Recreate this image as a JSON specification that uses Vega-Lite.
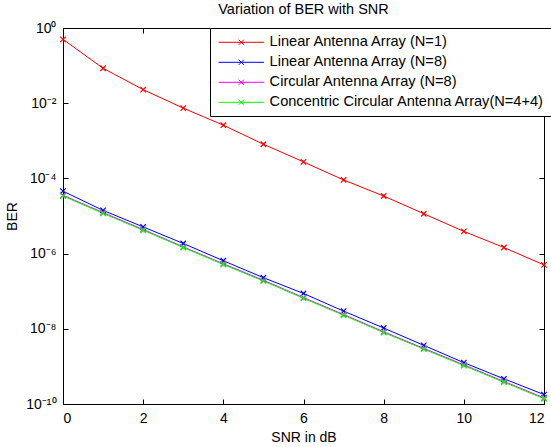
{
  "$schema": "https://vega.github.io/schema/vega-lite/v6.json",
  "width": 481,
  "height": 376,
  "autosize": {"type": "none"},
  "padding": {"left": 63, "top": 28, "right": 7, "bottom": 43},
  "background": "white",
  "config": {
    "font": "Liberation Sans",
    "view": {"stroke": "black", "strokeWidth": 1},
    "axis": {"grid": false, "domainColor": "black", "tickColor": "black", "labelColor": "black", "titleColor": "black", "labelFontSize": 14, "titleFontSize": 14, "titleFontWeight": "normal", "domainWidth": 1, "tickWidth": 1}
  },
  "title": {"text": "Variation of BER with SNR", "fontSize": 14.5, "fontWeight": "normal", "color": "black", "offset": 4, "anchor": "middle"},
  "data": {"values": [
    {"snr": 0, "ber": 0.5, "series": "Linear Antenna Array (N=1)"},
    {"snr": 1, "ber": 0.085, "series": "Linear Antenna Array (N=1)"},
    {"snr": 2, "ber": 0.023, "series": "Linear Antenna Array (N=1)"},
    {"snr": 3, "ber": 0.0074, "series": "Linear Antenna Array (N=1)"},
    {"snr": 4, "ber": 0.0026, "series": "Linear Antenna Array (N=1)"},
    {"snr": 5, "ber": 0.00081, "series": "Linear Antenna Array (N=1)"},
    {"snr": 6, "ber": 0.000275, "series": "Linear Antenna Array (N=1)"},
    {"snr": 7, "ber": 0.000091, "series": "Linear Antenna Array (N=1)"},
    {"snr": 8, "ber": 0.000034, "series": "Linear Antenna Array (N=1)"},
    {"snr": 9, "ber": 0.0000115, "series": "Linear Antenna Array (N=1)"},
    {"snr": 10, "ber": 0.0000039, "series": "Linear Antenna Array (N=1)"},
    {"snr": 11, "ber": 0.00000145, "series": "Linear Antenna Array (N=1)"},
    {"snr": 12, "ber": 0.0000005, "series": "Linear Antenna Array (N=1)"},
    {"snr": 0, "ber": 4.57e-5, "series": "Linear Antenna Array (N=8)"},
    {"snr": 1, "ber": 1.41e-5, "series": "Linear Antenna Array (N=8)"},
    {"snr": 2, "ber": 5.13e-6, "series": "Linear Antenna Array (N=8)"},
    {"snr": 3, "ber": 1.86e-6, "series": "Linear Antenna Array (N=8)"},
    {"snr": 4, "ber": 6.46e-7, "series": "Linear Antenna Array (N=8)"},
    {"snr": 5, "ber": 2.29e-7, "series": "Linear Antenna Array (N=8)"},
    {"snr": 6, "ber": 8.71e-8, "series": "Linear Antenna Array (N=8)"},
    {"snr": 7, "ber": 2.95e-8, "series": "Linear Antenna Array (N=8)"},
    {"snr": 8, "ber": 1.05e-8, "series": "Linear Antenna Array (N=8)"},
    {"snr": 9, "ber": 3.63e-9, "series": "Linear Antenna Array (N=8)"},
    {"snr": 10, "ber": 1.26e-9, "series": "Linear Antenna Array (N=8)"},
    {"snr": 11, "ber": 4.68e-10, "series": "Linear Antenna Array (N=8)"},
    {"snr": 12, "ber": 1.78e-10, "series": "Linear Antenna Array (N=8)"},
    {"snr": 0, "ber": 3.55e-5, "series": "Circular Antenna Array (N=8)"},
    {"snr": 1, "ber": 1.23e-5, "series": "Circular Antenna Array (N=8)"},
    {"snr": 2, "ber": 4.37e-6, "series": "Circular Antenna Array (N=8)"},
    {"snr": 3, "ber": 1.51e-6, "series": "Circular Antenna Array (N=8)"},
    {"snr": 4, "ber": 5.37e-7, "series": "Circular Antenna Array (N=8)"},
    {"snr": 5, "ber": 1.95e-7, "series": "Circular Antenna Array (N=8)"},
    {"snr": 6, "ber": 6.76e-8, "series": "Circular Antenna Array (N=8)"},
    {"snr": 7, "ber": 2.40e-8, "series": "Circular Antenna Array (N=8)"},
    {"snr": 8, "ber": 8.32e-9, "series": "Circular Antenna Array (N=8)"},
    {"snr": 9, "ber": 3.02e-9, "series": "Circular Antenna Array (N=8)"},
    {"snr": 10, "ber": 1.10e-9, "series": "Circular Antenna Array (N=8)"},
    {"snr": 11, "ber": 3.98e-10, "series": "Circular Antenna Array (N=8)"},
    {"snr": 12, "ber": 1.45e-10, "series": "Circular Antenna Array (N=8)"},
    {"snr": 0, "ber": 3.39e-5, "series": "Concentric Circular Antenna Array(N=4+4)"},
    {"snr": 1, "ber": 1.17e-5, "series": "Concentric Circular Antenna Array(N=4+4)"},
    {"snr": 2, "ber": 4.17e-6, "series": "Concentric Circular Antenna Array(N=4+4)"},
    {"snr": 3, "ber": 1.45e-6, "series": "Concentric Circular Antenna Array(N=4+4)"},
    {"snr": 4, "ber": 5.13e-7, "series": "Concentric Circular Antenna Array(N=4+4)"},
    {"snr": 5, "ber": 1.86e-7, "series": "Concentric Circular Antenna Array(N=4+4)"},
    {"snr": 6, "ber": 6.46e-8, "series": "Concentric Circular Antenna Array(N=4+4)"},
    {"snr": 7, "ber": 2.29e-8, "series": "Concentric Circular Antenna Array(N=4+4)"},
    {"snr": 8, "ber": 7.94e-9, "series": "Concentric Circular Antenna Array(N=4+4)"},
    {"snr": 9, "ber": 2.88e-9, "series": "Concentric Circular Antenna Array(N=4+4)"},
    {"snr": 10, "ber": 1.05e-9, "series": "Concentric Circular Antenna Array(N=4+4)"},
    {"snr": 11, "ber": 3.80e-10, "series": "Concentric Circular Antenna Array(N=4+4)"},
    {"snr": 12, "ber": 1.38e-10, "series": "Concentric Circular Antenna Array(N=4+4)"}
  ]},
  "layer": [
    {
      "mark": {"type": "line", "strokeWidth": 1, "clip": false,
        "point": {"shape": "M-1,-1L1,1M-1,1L1,-1", "filled": false, "size": 30, "strokeWidth": 1.2}},
      "encoding": {
        "x": {"field": "snr", "type": "quantitative",
          "scale": {"domain": [0, 12], "nice": false, "zero": false},
          "axis": {"values": [0, 2, 4, 6, 8, 10, 12], "tickSize": -5, "labelPadding": 12, "title": "SNR in dB", "titlePadding": 5}},
        "y": {"field": "ber", "type": "quantitative",
          "scale": {"type": "log", "domain": [1e-10, 1], "nice": false},
          "axis": {"values": [1, 0.01, 0.0001, 0.000001, 0.00000001, 0.0000000001], "tickSize": -5, "labelPadding": 12, "title": "BER", "titlePadding": 6,
            "labelExpr": "datum.value > 0.5 ? '10⁰' : datum.value > 0.005 ? '10⁻²' : datum.value > 0.00005 ? '10⁻⁴' : datum.value > 0.0000005 ? '10⁻⁶' : datum.value > 0.000000005 ? '10⁻⁸' : '10⁻¹⁰'"}},
        "color": {"field": "series", "type": "nominal",
          "scale": {"domain": ["Linear Antenna Array (N=1)", "Linear Antenna Array (N=8)", "Circular Antenna Array (N=8)", "Concentric Circular Antenna Array(N=4+4)"],
                    "range": ["#ff0000", "#0000ff", "#ff00ff", "#00ff00"]},
          "legend": {"title": null, "orient": "none", "legendX": 147, "legendY": 0,
            "fillColor": "white", "strokeColor": "black", "padding": 7,
            "symbolType": "M-3.5,0L3.5,0M-0.4,-0.4L0.4,0.4M-0.4,0.4L0.4,-0.4",
            "symbolSize": 169, "symbolStrokeWidth": 1, "symbolFillColor": "transparent",
            "symbolOffset": 17, "labelOffset": 21, "labelFontSize": 14.6, "labelColor": "black",
            "rowPadding": 5, "labelLimit": 400}}
      }
    },
    {
      "mark": {"type": "point", "opacity": 0},
      "encoding": {
        "x": {"field": "snr", "type": "quantitative",
          "axis": {"orient": "top", "values": [0, 2, 4, 6, 8, 10, 12], "tickSize": -5, "labels": false, "title": null, "domain": false}},
        "y": {"field": "ber", "type": "quantitative",
          "axis": {"orient": "right", "values": [1, 0.01, 0.0001, 0.000001, 0.00000001, 0.0000000001], "tickSize": -5, "labels": false, "title": null, "domain": false}}
      }
    }
  ],
  "resolve": {"axis": {"x": "independent", "y": "independent"}}
}
